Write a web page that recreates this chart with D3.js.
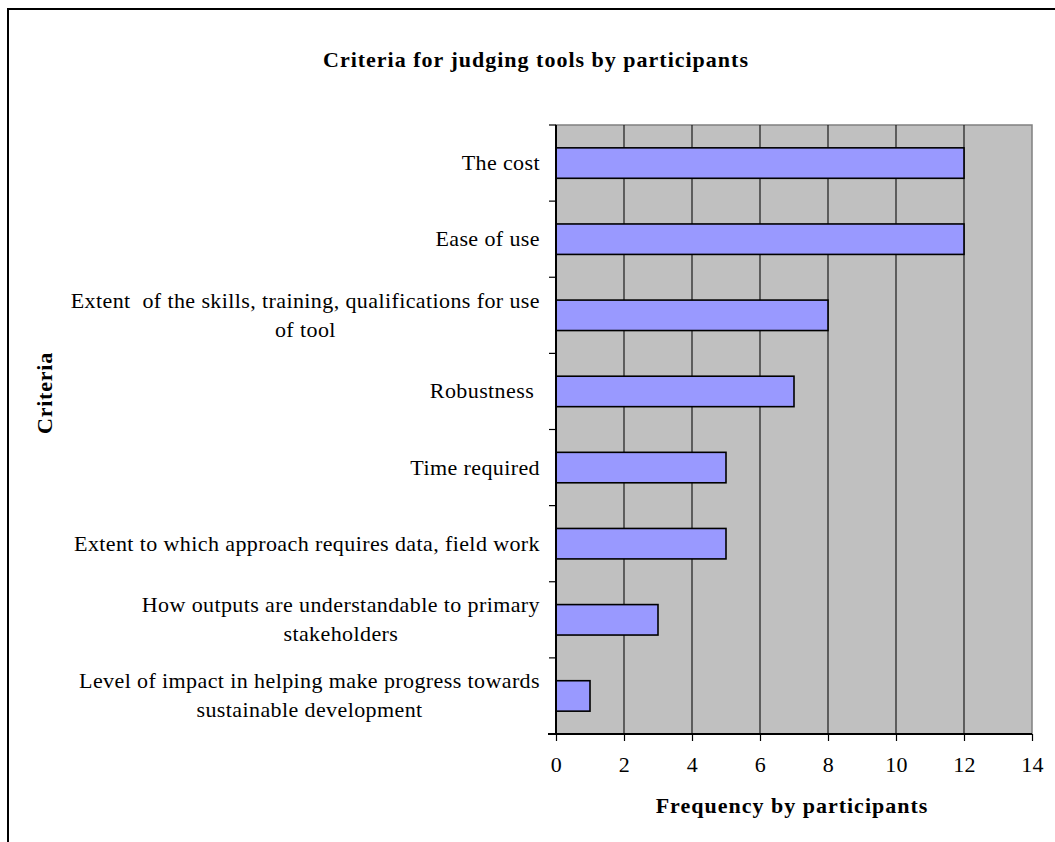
<!DOCTYPE html>
<html>
<head>
<meta charset="utf-8">
<script src="https://cdn.jsdelivr.net/npm/d3@7"></script>
<style>
  html, body { margin: 0; padding: 0; background: #fff; }
  svg { display: block; }
  text { font-family: "Liberation Serif", "Times New Roman", serif; fill: #000; }
</style>
</head>
<body>
<svg id="chart" width="1055" height="842"></svg>
<script>
// Criteria (top to bottom) and how many participants named each one
const categories = [
  "The cost",
  "Ease of use",
  "Extent  of the skills, training, qualifications for use|of tool",
  "Robustness ",
  "Time required",
  "Extent to which approach requires data, field work",
  "How outputs are understandable to primary|stakeholders",
  "Level of impact in helping make progress towards|sustainable development"
];
const frequencies = [12, 12, 8, 7, 5, 5, 3, 1];
const xTicks = [0, 2, 4, 6, 8, 10, 12, 14];

const chartTitle = "Criteria for judging tools by participants";
const xTitle = "Frequency by participants";
const yTitle = "Criteria";

const svg = d3.select("#chart");

// outer frame of the chart object
svg.append("rect")
  .attr("x", 8).attr("y", 9)
  .attr("width", 1200).attr("height", 1000)
  .attr("fill", "#fff").attr("stroke", "#000").attr("stroke-width", 2);

const plot = { left: 556, right: 1032, top: 125, bottom: 734 };

const x = d3.scaleLinear().domain([0, 14]).range([plot.left, plot.right]);
const band = d3.scaleBand().domain(categories).range([plot.top, plot.bottom]).padding(0);
const y = d3.scaleBand().domain(categories).range([plot.top, plot.bottom])
  .paddingInner(0.6).paddingOuter(0.3);

// plot area background
svg.append("rect")
  .attr("x", plot.left).attr("y", plot.top)
  .attr("width", plot.right - plot.left).attr("height", plot.bottom - plot.top)
  .attr("fill", "#c0c0c0").attr("stroke", "#808080").attr("stroke-width", 1.5);

// vertical gridlines
svg.append("g")
  .selectAll("line")
  .data(xTicks.filter(d => d > 0 && d < 14))
  .join("line")
  .attr("x1", d => x(d)).attr("x2", d => x(d))
  .attr("y1", plot.top).attr("y2", plot.bottom)
  .attr("stroke", "#1a1a1a").attr("stroke-width", 1.2);

// bars
svg.append("g")
  .selectAll("rect")
  .data(categories.map((c, i) => ({ c, v: frequencies[i] })))
  .join("rect")
  .attr("x", x(0))
  .attr("y", d => y(d.c))
  .attr("width", d => x(d.v) - x(0))
  .attr("height", y.bandwidth())
  .attr("fill", "#9999ff")
  .attr("stroke", "#000")
  .attr("stroke-width", 1.6);

// x axis
const xAxis = d3.axisBottom(x).tickValues(xTicks).tickSize(7).tickPadding(15);
const gx = svg.append("g").attr("transform", `translate(0,${plot.bottom})`).call(xAxis);
gx.select(".domain").attr("stroke", "#000").attr("stroke-width", 2).attr("d", `M${plot.left - 8},0H${plot.right}`);
gx.selectAll(".tick line").attr("stroke", "#000").attr("stroke-width", 1.2);
gx.selectAll(".tick text")
  .style("font-family", '"Liberation Serif", serif')
  .style("font-size", "22px")
  .style("letter-spacing", "0.3px")
  .attr("fill", "#000");

// y axis line and ticks at band boundaries
const bounds = categories.map(c => band(c)).concat([plot.bottom]);
svg.append("line")
  .attr("x1", plot.left).attr("x2", plot.left)
  .attr("y1", plot.top).attr("y2", plot.bottom)
  .attr("stroke", "#000").attr("stroke-width", 2);
svg.append("g")
  .selectAll("line")
  .data(bounds)
  .join("line")
  .attr("x1", plot.left - 7).attr("x2", plot.left)
  .attr("y1", d => d).attr("y2", d => d)
  .attr("stroke", "#000").attr("stroke-width", 1.2);

// category labels: lines centred on each other, block right-aligned
const labelRight = 540;
const lineGap = 29;
const labels = svg.append("g");
categories.forEach(c => {
  const lines = c.split("|");
  const cy = band(c) + band.bandwidth() / 2;
  const g = labels.append("g");
  const texts = lines.map((ln, i) =>
    g.append("text")
      .attr("xml:space", "preserve")
      .style("white-space", "pre")
      .style("font-size", "22px")
      .style("letter-spacing", "0.4px")
      .attr("text-anchor", "middle")
      .attr("y", cy + (i - (lines.length - 1) / 2) * lineGap + 7)
      .text(ln)
  );
  const maxW = d3.max(texts, t => t.node().getComputedTextLength());
  texts.forEach(t => t.attr("x", labelRight - maxW / 2));
});

// titles
svg.append("text")
  .attr("x", 536).attr("y", 67)
  .attr("text-anchor", "middle")
  .style("font-size", "22px").style("font-weight", "bold").style("letter-spacing", "1.0px")
  .text(chartTitle);

svg.append("text")
  .attr("x", 792).attr("y", 813)
  .attr("text-anchor", "middle")
  .style("font-size", "22px").style("font-weight", "bold").style("letter-spacing", "1.0px")
  .text(xTitle);

svg.append("text")
  .attr("transform", "translate(52,393) rotate(-90)")
  .attr("text-anchor", "middle")
  .style("font-size", "22px").style("font-weight", "bold").style("letter-spacing", "0.8px")
  .text(yTitle);
</script>
</body>
</html>
